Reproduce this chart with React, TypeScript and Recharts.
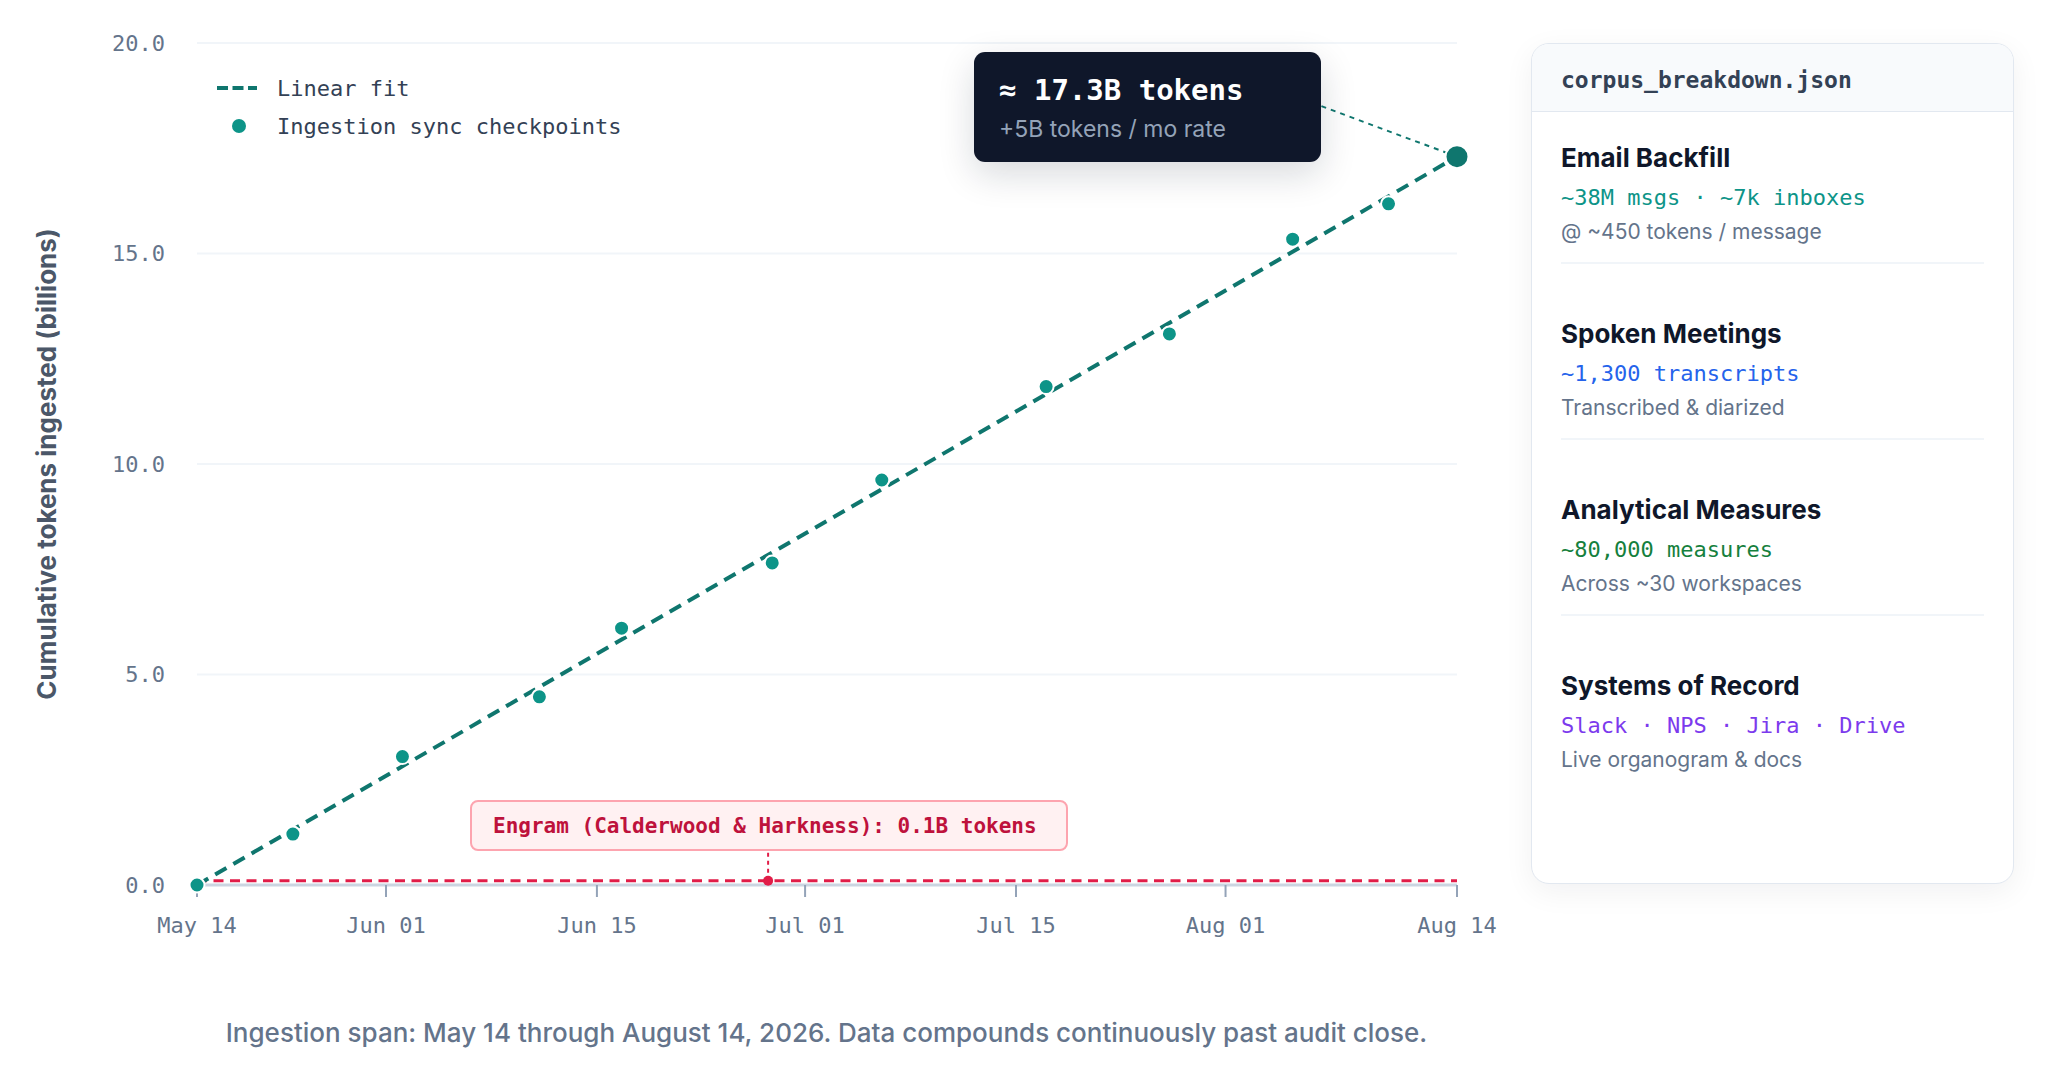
import React from 'react';
import {
  ComposedChart,
  Line,
  XAxis,
  YAxis,
  CartesianGrid,
  ReferenceLine,
  ReferenceDot,
  Legend,
} from 'recharts';

// checkpoints: days since May 14 -> cumulative tokens (billions)
const CHECKPOINT_DAYS = [0, 7, 15, 25, 31, 42, 50, 62, 71, 80, 87, 92];
const CHECKPOINT_TOKENS = [0, 1.21, 3.05, 4.47, 6.1, 7.65, 9.62, 11.84, 13.09, 15.34, 16.18, 17.3];

const FIT_DAYS = [0, 92];
const FIT_TOKENS = [0, 17.3];

const X_TICKS = [0, 13.8, 29.2, 44.4, 59.8, 75.1, 92];
const X_LABELS = ['May 14', 'Jun 01', 'Jun 15', 'Jul 01', 'Jul 15', 'Aug 01', 'Aug 14'];
const Y_TICKS = [0, 5, 10, 15, 20];

const ENGRAM_TOKENS = 0.1;
const ENGRAM_DAY = 41.7;
const ENGRAM_LABEL_VALUE = 0.83;
const ENGRAM_TEXT = 'Engram (Calderwood & Harkness): 0.1B tokens';

const CALLOUT_DAY = 82.1;
const CALLOUT_VALUE = 18.5;
const CALLOUT_TITLE = '≈ 17.3B tokens';
const CALLOUT_SUB = '+5B tokens / mo rate';

const SECTION_TITLES = ['Email Backfill', 'Spoken Meetings', 'Analytical Measures', 'Systems of Record'];
const SECTION_STATS = ['~38M msgs · ~7k inboxes', '~1,300 transcripts', '~80,000 measures', 'Slack · NPS · Jira · Drive'];
const SECTION_NOTES = ['@ ~450 tokens / message', 'Transcribed & diarized', 'Across ~30 workspaces', 'Live organogram & docs'];
const SECTION_COLORS = ['#0d9488', '#2563eb', '#15803d', '#7c3aed'];

const checkpoints = CHECKPOINT_DAYS.map((day, i) => ({ day, value: CHECKPOINT_TOKENS[i] }));
const fit = FIT_DAYS.map((day, i) => ({ day, value: FIT_TOKENS[i] }));

const MONO = '"DejaVu Sans Mono", monospace';
const SANS = 'Inter, "Noto Sans", sans-serif';

const renderDot = (props: any) => {
  const { cx, cy, index } = props;
  const last = index === CHECKPOINT_DAYS.length - 1;
  return (
    <circle
      key={`dot-${index}`}
      cx={cx}
      cy={cy}
      r={last ? 11.5 : 7.5}
      fill={last ? '#0f766e' : '#0d9488'}
      stroke="#ffffff"
      strokeWidth={2}
    />
  );
};

const LegendBox = () => (
  <div style={{ fontFamily: MONO, fontSize: 22, color: '#334155' }}>
    <div style={{ display: 'flex', alignItems: 'center', height: 38 }}>
      <svg width={40} height={8} style={{ marginRight: 20 }}>
        <line x1={0} y1={4} x2={40} y2={4} stroke="#0f766e" strokeWidth={4} strokeDasharray="11 4.5" />
      </svg>
      <span>Linear fit</span>
    </div>
    <div style={{ display: 'flex', alignItems: 'center', height: 38 }}>
      <svg width={40} height={16} style={{ marginRight: 20 }}>
        <circle cx={22} cy={8} r={7} fill="#0d9488" />
      </svg>
      <span>Ingestion sync checkpoints</span>
    </div>
  </div>
);

export default function App() {
  return (
    <div
      style={{
        position: 'absolute',
        left: 0,
        top: 0,
        width: 2048,
        height: 1071,
        background: '#ffffff',
        overflow: 'hidden',
      }}
    >
      <ComposedChart
        width={1500}
        height={1071}
        margin={{ top: 43, right: 43, left: 60, bottom: 126 }}
      >
        <CartesianGrid vertical={false} stroke="#f1f5f9" strokeWidth={2} />
        <XAxis
          type="number"
          dataKey="day"
          domain={[0, 92]}
          ticks={X_TICKS}
          interval={0}
          tickFormatter={(v: number) => X_LABELS[X_TICKS.indexOf(v)] ?? ''}
          axisLine={{ stroke: '#cbd5e1', strokeWidth: 3 }}
          tickLine={{ stroke: '#94a3b8', strokeWidth: 2 }}
          tickSize={12}
          tickMargin={20}
          height={60}
          tick={{ fontFamily: MONO, fontSize: 22, fill: '#64748b' }}
        />
        <YAxis
          type="number"
          domain={[0, 20]}
          ticks={Y_TICKS}
          interval={0}
          tickFormatter={(v: number) => v.toFixed(1)}
          axisLine={false}
          tickLine={false}
          tickSize={0}
          tickMargin={32}
          width={137}
          tick={{ fontFamily: MONO, fontSize: 22, fill: '#64748b' }}
        />
        <Legend
          layout="vertical"
          align="center"
          verticalAlign="middle"
          wrapperStyle={{ left: 217, top: 69, width: 'auto', height: 'auto' }}
          content={() => <LegendBox />}
        />
        <ReferenceLine
          y={ENGRAM_TOKENS}
          stroke="#e11d48"
          strokeWidth={3}
          strokeDasharray="10 6.5"
        />
        <ReferenceLine
          segment={[
            { x: ENGRAM_DAY, y: ENGRAM_TOKENS },
            { x: ENGRAM_DAY, y: ENGRAM_LABEL_VALUE },
          ]}
          stroke="#e11d48"
          strokeWidth={2}
          strokeDasharray="4 4"
        />
        <ReferenceDot x={ENGRAM_DAY} y={ENGRAM_TOKENS} r={5} fill="#e11d48" stroke="none" />
        <ReferenceLine
          segment={[
            { x: CALLOUT_DAY, y: CALLOUT_VALUE },
            { x: FIT_DAYS[1], y: FIT_TOKENS[1] },
          ]}
          stroke="#0f766e"
          strokeWidth={2}
          strokeDasharray="5 5"
        />
        <Line
          data={fit}
          dataKey="value"
          type="linear"
          stroke="#0f766e"
          strokeWidth={4}
          strokeDasharray="13 8"
          dot={false}
          activeDot={false}
          isAnimationActive={false}
        />
        <Line
          data={checkpoints}
          dataKey="value"
          type="linear"
          stroke="none"
          dot={renderDot}
          activeDot={false}
          isAnimationActive={false}
        />
      </ComposedChart>

      {/* y axis title */}
      <div
        style={{
          position: 'absolute',
          left: 46,
          top: 464,
          transform: 'translate(-50%, -50%) rotate(-90deg)',
          whiteSpace: 'nowrap',
          fontFamily: SANS,
          fontWeight: 700,
          fontSize: 26,
          color: '#4b5768',
        }}
      >
        Cumulative tokens ingested (billions)
      </div>

      {/* dark callout */}
      <div
        style={{
          position: 'absolute',
          left: 974,
          top: 52,
          width: 347,
          height: 110,
          boxSizing: 'border-box',
          background: '#0f172a',
          borderRadius: 11,
          padding: '19px 25px 0 25px',
          boxShadow: '0 12px 36px rgba(15, 23, 42, 0.16)',
        }}
      >
        <div style={{ fontFamily: MONO, fontWeight: 700, fontSize: 29, color: '#ffffff', lineHeight: '38px' }}>
          {CALLOUT_TITLE}
        </div>
        <div style={{ fontFamily: SANS, fontSize: 23, color: '#94a3b8', lineHeight: '40px' }}>
          {CALLOUT_SUB}
        </div>
      </div>

      {/* engram label */}
      <div
        style={{
          position: 'absolute',
          left: 470,
          top: 800,
          width: 598,
          height: 51,
          boxSizing: 'border-box',
          background: '#fff1f2',
          border: '2px solid #fda4af',
          borderRadius: 8,
          paddingLeft: 21,
          display: 'flex',
          alignItems: 'center',
          fontFamily: MONO,
          fontWeight: 700,
          fontSize: 21,
          color: '#be123c',
          whiteSpace: 'nowrap',
        }}
      >
        {ENGRAM_TEXT}
      </div>

      {/* footer */}
      <div
        style={{
          position: 'absolute',
          left: 0,
          top: 1017,
          width: 1653,
          textAlign: 'center',
          fontFamily: SANS,
          fontWeight: 500,
          fontSize: 26,
          lineHeight: '32px',
          color: '#64748b',
        }}
      >
        Ingestion span: May 14 through August 14, 2026. Data compounds continuously past audit close.
      </div>

      {/* breakdown panel */}
      <div
        style={{
          position: 'absolute',
          left: 1531,
          top: 43,
          width: 483,
          height: 841,
          boxSizing: 'border-box',
          border: '1.5px solid #e2e8f0',
          borderRadius: 18,
          background: '#ffffff',
          boxShadow: '0 8px 30px rgba(15, 23, 42, 0.06)',
          overflow: 'hidden',
        }}
      >
        <div
          style={{
            height: 68,
            boxSizing: 'border-box',
            background: '#f8fafc',
            borderBottom: '1.5px solid #e2e8f0',
            paddingLeft: 29,
            paddingTop: 5,
            display: 'flex',
            alignItems: 'center',
            fontFamily: MONO,
            fontWeight: 700,
            fontSize: 23,
            color: '#334155',
          }}
        >
          corpus_breakdown.json
        </div>
        <div style={{ padding: '0 29px' }}>
          {SECTION_TITLES.map((title, i) => (
            <div
              key={title}
              style={{
                paddingTop: 30,
                paddingBottom: 17,
                marginBottom: 24,
                borderBottom: i < SECTION_TITLES.length - 1 ? '2px solid #f1f5f9' : 'none',
              }}
            >
              <div style={{ fontFamily: SANS, fontWeight: 700, fontSize: 26, lineHeight: '32px', color: '#0f172a' }}>
                {title}
              </div>
              <div
                style={{
                  marginTop: 10,
                  fontFamily: MONO,
                  fontSize: 22,
                  lineHeight: '28px',
                  color: SECTION_COLORS[i],
                  whiteSpace: 'nowrap',
                }}
              >
                {SECTION_STATS[i]}
              </div>
              <div style={{ marginTop: 7, fontFamily: SANS, fontSize: 21, lineHeight: '26px', color: '#64748b' }}>
                {SECTION_NOTES[i]}
              </div>
            </div>
          ))}
        </div>
      </div>
    </div>
  );
}
